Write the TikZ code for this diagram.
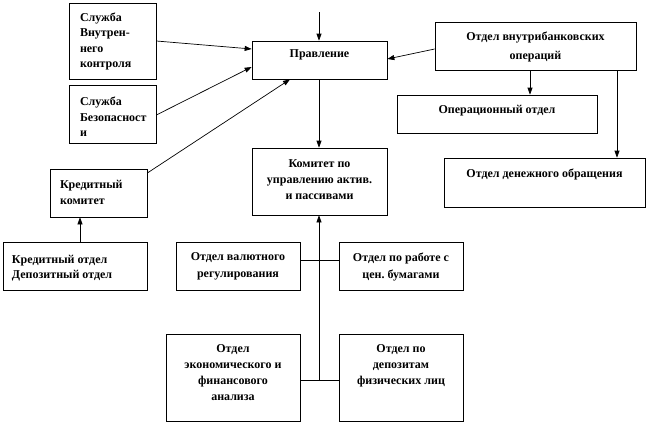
\documentclass[tikz,border=0pt]{standalone}
\usepackage{fontspec}
\setmainfont{Liberation Serif}
\usetikzlibrary{arrows.meta}
\frenchspacing
\newcommand\boxtxt[6]{\parbox[c][#2pt][t]{#1pt}{\fontsize{12}{#5pt}\selectfont\bfseries\vspace*{#3pt}#4#6\par}}
\tikzset{
  box/.style={draw, line width=0.7pt, inner sep=0pt, rectangle},
  arr/.style={line width=0.7pt, -{Triangle[length=7pt,width=5pt]}},
  ln/.style={line width=0.7pt}
}
\begin{document}
\begin{tikzpicture}[x=1pt,y=-1pt]
\useasboundingbox (0,0) rectangle (649,423);
\node[box] (sv) at (112.5,41) {\boxtxt{87}{76}{10}{\raggedright\leftskip=11pt}{15.3}{Служба\\Внутрен-\\него\\контроля}};
\node[box] (sb) at (112.5,114) {\boxtxt{87}{58}{12}{\raggedright\leftskip=11pt}{15.5}{Служба\\Безопасност\\и}};
\node[box] (pr) at (319.5,60) {\boxtxt{135}{38}{8.5}{\centering}{15.5}{Правление}};
\node[box] (ov) at (535.5,46) {\boxtxt{201}{48}{10}{\centering}{19}{Отдел внутрибанковских\\операций}};
\node[box] (oo) at (497,114) {\boxtxt{200}{38}{10}{\centering}{15.5}{Операционный отдел}};
\node[box] (od) at (544.5,182.5) {\boxtxt{201}{49}{11}{\centering}{15.5}{Отдел денежного обращения}};
\node[box] (km) at (319.5,181.5) {\boxtxt{135}{67}{12}{\centering}{16}{Комитет по\\управлению актив.\\и пассивами}};
\node[box] (kk) at (98.5,193) {\boxtxt{97}{48}{11}{\raggedright\leftskip=10pt}{16}{Кредитный\\комитет}};
\node[box] (ko) at (75,266) {\boxtxt{144}{48}{13}{\raggedright\leftskip=9pt}{15.5}{Кредитный отдел\\Депозитный отдел}};
\node[box] (vr) at (238,266) {\boxtxt{124}{48}{11}{\centering}{16.5}{Отдел валютного\\регулирования}};
\node[box] (cb) at (401,266) {\boxtxt{124}{48}{11}{\centering}{16.5}{Отдел по работе с\\цен. бумагами}};
\node[box] (ea) at (233,377.5) {\boxtxt{134}{87}{11}{\centering}{15.7}{Отдел\\экономического и\\финансового\\анализа}};
\node[box] (dp) at (401,377.5) {\boxtxt{124}{87}{11}{\centering}{15.7}{Отдел по\\депозитам\\физических лиц}};
\coordinate (top) at (319,12);
\coordinate (jb) at (319,380);
\draw[arr] (top) -- (top |- pr.north);
\draw[arr] (sv.east |- 0,41) -- (pr.west |- 0,49);
\draw[arr] (sb.east |- 0,115) -- (pr.west |- 0,67);
\draw[arr] (kk.east |- 0,173) -- (pr.south -| 290,0);
\draw[arr] (ov.west |- 0,49) -- (pr.east |- 0,59);
\draw[arr] (ov.south -| 530,0) -- (oo.north -| 530,0);
\draw[arr] (ov.south -| 617,0) -- (od.north -| 617,0);
\draw[arr] (pr.south -| 319,0) -- (km.north -| 319,0);
\draw[arr] (ko.north -| 80,0) -- (kk.south -| 80,0);
\draw[arr] (jb) -- (km.south -| jb);
\draw[ln] (vr.east |- 0,260) -- (cb.west |- 0,260);
\draw[ln] (ea.east |- 0,380) -- (dp.west |- 0,380);
\end{tikzpicture}
\end{document}
